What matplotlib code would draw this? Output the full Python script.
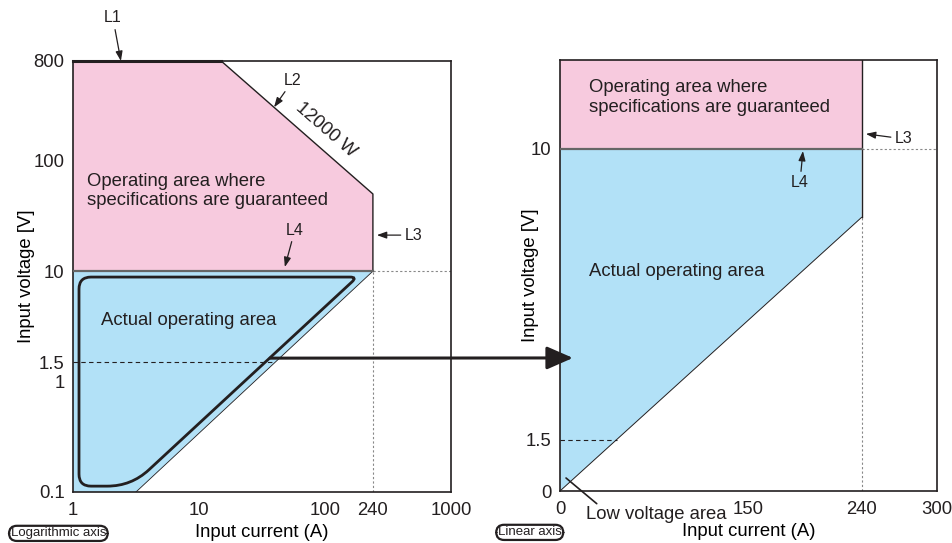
import numpy as np
import matplotlib
matplotlib.use('Agg')
import matplotlib.pyplot as plt
from matplotlib.path import Path
from matplotlib.patches import PathPatch, Polygon, ConnectionPatch

plt.rcParams['font.family'] = ['Liberation Sans', 'DejaVu Sans']
plt.rcParams['text.color'] = '#231f20'

# values
v_max = 800          # L1
p_max = 12000        # L2, W
i_max = 240          # L3
v_spec = 10          # L4
v_low = 1.5
i_low_start = 3.16   # where the log diagonal meets 0.1 V
v_diag_end = 8       # linear panel: V at 240 A on the diagonal
log_xticks = [1, 10, 100, 240, 1000]
log_yticks = [0.1, 1, 1.5, 10, 100, 800]
lin_xticks = [0, 150, 240, 300]
lin_yticks = [0, 1.5, 10]
log_xlim = (1, 1000)
log_ylim = (0.1, 800)
lin_xlim = (0, 300)
lin_ylim = (0, 12.6)
# the thick rounded outline (A, V)
outline_i = [1.116, 180, 2.9, 1.116]
outline_v = [8.84, 8.84, 0.113, 0.113]
outline_r = [12, 7, 24, 12]

pink = '#f7cade'
blue = '#b2e1f7'
ink = '#231f20'
fs = 13.3

W, H = 952, 543
fig = plt.figure(figsize=(W / 100, H / 100), dpi=100)
pos1 = [73 / W, 51 / H, 378 / W, 431 / H]
pos2 = [560 / W, 52 / H, 377 / W, 431 / H]
ax1 = fig.add_axes(pos1)
ax2 = fig.add_axes(pos2)


def style(ax, ylab_x):
    for s in ax.spines.values():
        s.set_color(ink)
        s.set_linewidth(1.2)
    ax.tick_params(length=0, pad=6, labelsize=fs, colors=ink)
    ax.tick_params(axis='x', pad=7)
    ax.set_xlabel('Input current (A)', fontsize=fs, labelpad=4)
    ax.set_ylabel('Input voltage [V]', fontsize=fs)
    ax.yaxis.set_label_coords(ylab_x, 0.5)


# ---------- left: logarithmic ----------
ax1.set_xscale('log')
ax1.set_yscale('log')
ax1.set_xlim(*log_xlim)
ax1.set_ylim(*log_ylim)
ax1.minorticks_off()
ax1.set_xticks(log_xticks)
ax1.set_xticklabels([str(t) for t in log_xticks])
ax1.set_yticks(log_yticks)
ax1.set_yticklabels([str(t) for t in log_yticks])
style(ax1, -0.1)

i_knee = p_max / v_max
v_knee = p_max / i_max
pink_l = [(log_xlim[0], v_max), (i_knee, v_max), (i_max, v_knee), (i_max, v_spec), (log_xlim[0], v_spec)]
ax1.add_patch(Polygon(pink_l, closed=True, fc=pink, ec='none', zorder=1))
ax1.plot([i_knee, i_max, i_max], [v_max, v_knee, v_spec], color=ink, lw=1, zorder=3)
ax1.plot([log_xlim[0], i_knee], [v_max, v_max], color=ink, lw=2.2, zorder=3, clip_on=False)

blue_l = [(log_xlim[0], log_ylim[0]), (i_low_start, log_ylim[0]), (i_max, v_spec), (log_xlim[0], v_spec)]
ax1.add_patch(Polygon(blue_l, closed=True, fc=blue, ec='none', zorder=1))
ax1.plot([i_low_start, i_max], [log_ylim[0], v_spec], color=ink, lw=0.6, zorder=3)
ax1.plot([log_xlim[0], i_max], [v_spec, v_spec], color='#666666', lw=1.6, zorder=3)

# dotted guides
ax1.plot([i_max, log_xlim[1]], [v_spec, v_spec], color='#888888', lw=0.8, ls=(0, (2, 2)), zorder=2)
ax1.plot([i_max, i_max], [log_ylim[0], v_spec], color='#888888', lw=0.8, ls=(0, (2, 2)), zorder=2)
# dashed 1.5 V up to the diagonal
t = (np.log10(v_low) - np.log10(log_ylim[0])) / (np.log10(v_spec) - np.log10(log_ylim[0]))
i_cross = 10 ** (np.log10(i_low_start) + t * (np.log10(i_max) - np.log10(i_low_start)))
ax1.plot([log_xlim[0], i_cross], [v_low, v_low], color=ink, lw=0.8, ls=(0, (4, 3)), zorder=2)


# rounded outline, rounding done in pixel space of the axes
def rounded_outline(ax, xs, ys, radii, pos):
    frac = (ax.transScale + ax.transLimits).transform(np.column_stack([xs, ys]))
    scale = np.array([pos[2] * W, pos[3] * H])
    pts = frac * scale
    n = len(pts)
    verts, codes = [], []
    for k in range(n):
        v = pts[k]
        p0 = pts[k - 1]
        p2 = pts[(k + 1) % n]
        a = v + radii[k] * (p0 - v) / np.linalg.norm(p0 - v)
        b = v + radii[k] * (p2 - v) / np.linalg.norm(p2 - v)
        verts += [a, v, b]
        codes += [Path.MOVETO if k == 0 else Path.LINETO, Path.CURVE3, Path.CURVE3]
    verts.append(verts[0])
    codes.append(Path.CLOSEPOLY)
    verts = np.array(verts) / scale
    return Path(verts, codes)


ax1.add_patch(PathPatch(rounded_outline(ax1, outline_i, outline_v, outline_r, pos1),
                        transform=ax1.transAxes, fc='none', ec=ink, lw=2, zorder=4))

ax1.text(1.29, 53, 'Operating area where\nspecifications are guaranteed', fontsize=fs,
         ha='left', va='center', linespacing=1.2, zorder=5)
ax1.text(1.67, 3.6, 'Actual operating area', fontsize=fs, ha='left', va='center', zorder=5)
ax1.text(102, 190, '12000 W', fontsize=fs, rotation=-41, rotation_mode='anchor',
         ha='center', va='center', zorder=5)

arr = dict(arrowstyle='-|>,head_length=0.5,head_width=0.18', color=ink, lw=0.9,
           shrinkA=1, shrinkB=0)
lfs = 11.5
ax1.annotate('L1', xy=(2.4, v_max), xytext=(-8, 43), textcoords='offset pixels',
             fontsize=lfs, ha='center', va='center', arrowprops=arr, annotation_clip=False)
ax1.annotate('L2', xy=(39.4, 305), xytext=(19, 27), textcoords='offset pixels',
             fontsize=lfs, ha='center', va='center', arrowprops=arr)
ax1.annotate('L3', xy=(258, 21.2), xytext=(28, 0), textcoords='offset pixels',
             fontsize=lfs, ha='left', va='center', arrowprops=arr)
ax1.annotate('L4', xy=(48, 10.9), xytext=(10, 37), textcoords='offset pixels',
             fontsize=lfs, ha='center', va='center', arrowprops=arr)

box = dict(boxstyle='round,pad=0.12,rounding_size=0.6', fc='white', ec=ink, lw=1.6)
ax1.text(-0.165, -0.096, 'Logarithmic axis', transform=ax1.transAxes, fontsize=9.5,
         ha='left', va='center', bbox=box)

# ---------- right: linear ----------
ax2.set_xlim(*lin_xlim)
ax2.set_ylim(*lin_ylim)
ax2.set_xticks(lin_xticks)
ax2.set_xticklabels([str(t) for t in lin_xticks])
ax2.set_yticks(lin_yticks)
ax2.set_yticklabels([str(t) for t in lin_yticks])
style(ax2, -0.055)

pink_r = [(0, v_spec), (i_max, v_spec), (i_max, lin_ylim[1]), (0, lin_ylim[1])]
ax2.add_patch(Polygon(pink_r, closed=True, fc=pink, ec='none', zorder=1))
blue_r = [(0, 0), (i_max, v_diag_end), (i_max, v_spec), (0, v_spec)]
ax2.add_patch(Polygon(blue_r, closed=True, fc=blue, ec='none', zorder=1))
ax2.plot([0, i_max], [0, v_diag_end], color=ink, lw=0.7, zorder=3)
ax2.plot([i_max, i_max], [v_diag_end, lin_ylim[1]], color=ink, lw=1, zorder=3)
ax2.plot([0, i_max], [v_spec, v_spec], color='#666666', lw=1.6, zorder=3)
ax2.plot([i_max, lin_xlim[1]], [v_spec, v_spec], color='#888888', lw=0.8, ls=(0, (2, 2)), zorder=2)
ax2.plot([i_max, i_max], [0, v_diag_end], color='#888888', lw=0.8, ls=(0, (2, 2)), zorder=2)
ax2.plot([0, v_low / v_diag_end * i_max], [v_low, v_low], color=ink, lw=0.8, ls=(0, (4, 3)), zorder=2)

ax2.text(23, 11.5, 'Operating area where\nspecifications are guaranteed', fontsize=fs,
         ha='left', va='center', linespacing=1.2, zorder=5)
ax2.text(23, 6.43, 'Actual operating area', fontsize=fs, ha='left', va='center', zorder=5)

ax2.annotate('L3', xy=(243.4, 10.44), xytext=(38, -5), textcoords='offset pixels',
             fontsize=lfs, ha='center', va='center', arrowprops=arr)
ax2.annotate('L4', xy=(193.3, 9.94), xytext=(-3, -32), textcoords='offset pixels',
             fontsize=lfs, ha='center', va='center', arrowprops=arr)
ax2.annotate('Low voltage area', xy=(4.8, 0.38), xytext=(20.7, -0.7), textcoords='data',
             fontsize=fs, ha='left', va='center', annotation_clip=False,
             arrowprops=dict(arrowstyle='-', color=ink, lw=1.2, shrinkA=0, shrinkB=0,
                             relpos=(0.1, 1.0)))

ax2.text(-0.165, -0.096, 'Linear axis', transform=ax2.transAxes, fontsize=9.5,
         ha='left', va='center', bbox=box)

# big arrow from the log panel's 1.5 V point to the linear panel
big = ConnectionPatch(xyA=(36.7, 1.63), coordsA=ax1.transData,
                      xyB=(10.3, 3.89), coordsB=ax2.transData,
                      arrowstyle='-|>,head_length=1.6,head_width=0.7', color=ink,
                      lw=2.2, mutation_scale=10, shrinkA=0, shrinkB=0, zorder=6)
fig.add_artist(big)

fig.savefig('out.png', dpi=100)
